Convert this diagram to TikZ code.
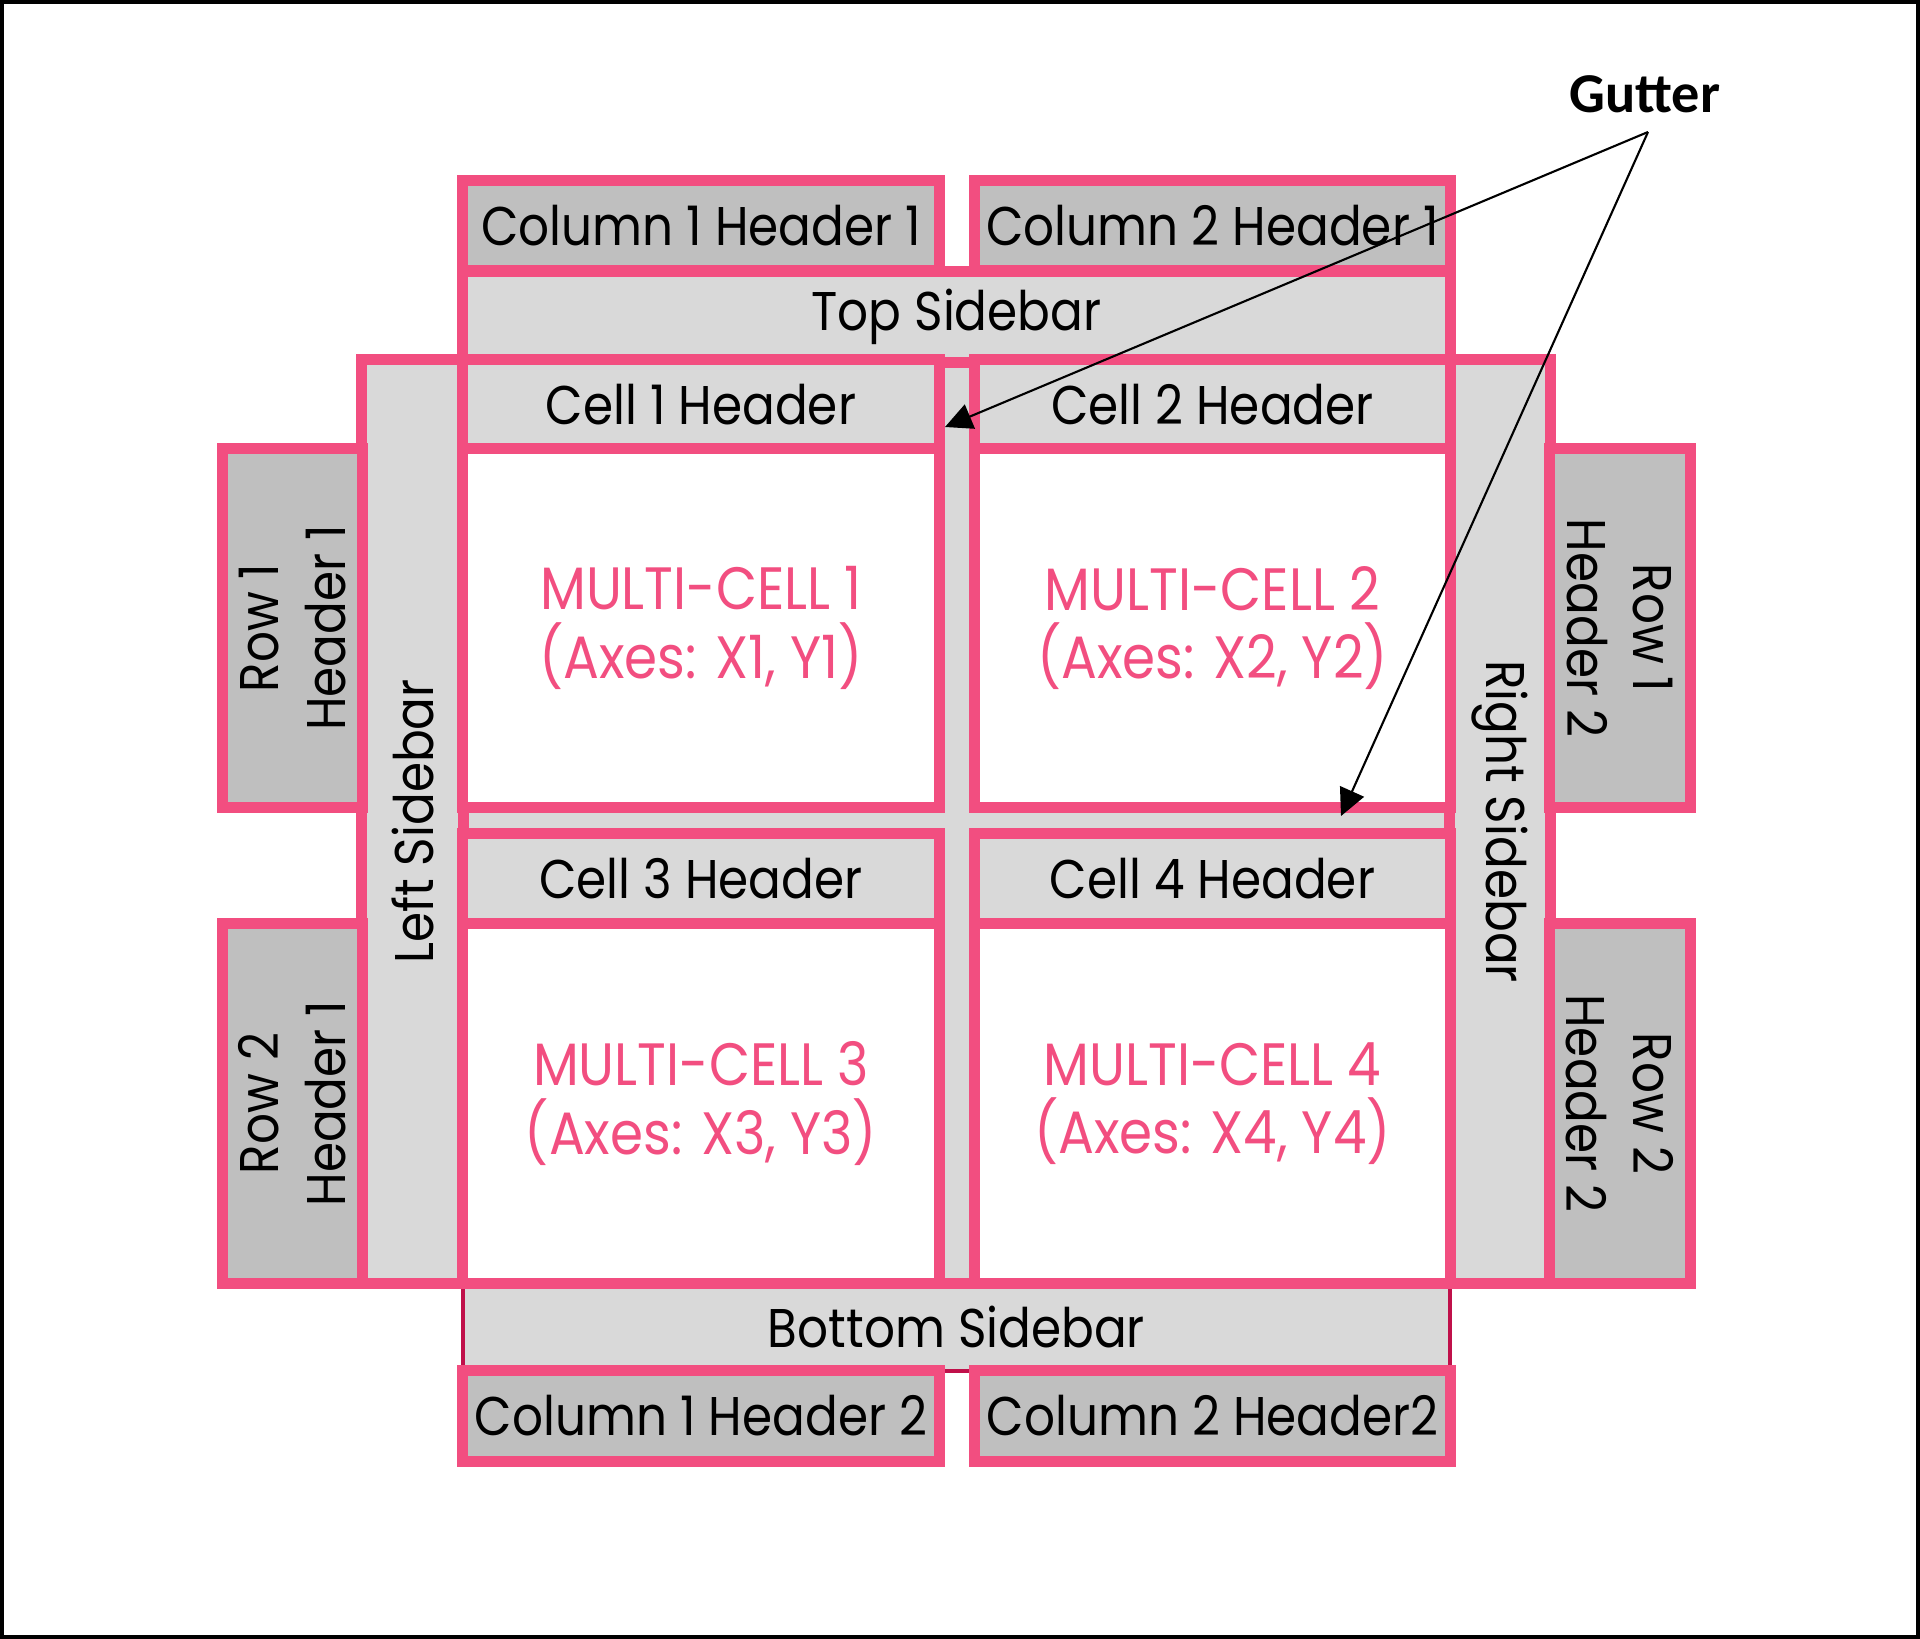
\documentclass[tikz,border=0pt]{standalone}
\usepackage{fontspec}
\setmainfont[FakeStretch=0.89]{Poppins}
\newfontfamily\gutterfont{Carlito}
\usepackage{xcolor}
\usetikzlibrary{arrows.meta}
\definecolor{gridpink}{RGB}{242,78,128}
\definecolor{edgered}{RGB}{192,16,74}
\definecolor{hdrgray}{RGB}{191,191,191}
\definecolor{sbgray}{RGB}{217,217,217}

\begin{document}
\begin{tikzpicture}[
    x=0.01cm, y=-0.01cm,
    font=\fontsize{15.5}{19}\selectfont,
    box/.style={draw=gridpink, line width=0.11cm, inner sep=0pt, align=center},
    hdr/.style={box, fill=hdrgray},
    sb/.style={box, fill=sbgray},
    multi/.style={box, fill=white, text=gridpink, font=\fontsize{17}{19.5}\selectfont},
    arr/.style={-{Triangle[length=0.27cm, width=0.26cm]}, line width=0.6pt, black},
]
\useasboundingbox (0,0) rectangle (1920,1639);
\draw[line width=0.04cm] (2,2) rectangle (1918,1637);

\node[sb, draw=edgered, line width=0.04cm, minimum width=9.87cm, minimum height=0.88cm] (botsb) at (956.5,1327) {Bottom Sidebar};
\node[sb, minimum width=9.87cm, minimum height=9.23cm] (grid) at (956.5,821.5) {};
\node[sb, minimum width=9.87cm, minimum height=0.90cm] (topsb) at (956.5,317) {Top Sidebar};
\node[sb, rotate=90, minimum width=9.23cm, minimum height=1.01cm] (leftsb) at (412.5,821.5) {Left Sidebar};
\node[sb, rotate=-90, minimum width=9.23cm, minimum height=1.00cm] (rightsb) at (1500,821.5) {Right Sidebar};

\node[hdr, minimum width=4.76cm, minimum height=0.89cm] (c1h1) at (701,225.5) {Column 1 Header 1};
\node[hdr, minimum width=4.75cm, minimum height=0.89cm] (c2h1) at (1212.5,225.5) {Column 2 Header 1};

\node[sb, minimum width=4.76cm, minimum height=0.89cm] (cell1h) at (701,404.5) {Cell 1 Header};
\node[sb, minimum width=4.75cm, minimum height=0.89cm] (cell2h) at (1212.5,404.5) {Cell 2 Header};
\node[multi, minimum width=4.76cm, minimum height=3.58cm] (mc1) at (701,628) {MULTI-CELL 1\\(Axes: X1, Y1)};
\node[multi, minimum width=4.75cm, minimum height=3.58cm] (mc2) at (1212.5,628) {MULTI-CELL 2\\(Axes: X2, Y2)};
\node[sb, minimum width=4.76cm, minimum height=0.90cm] (cell3h) at (701,879) {Cell 3 Header};
\node[sb, minimum width=4.75cm, minimum height=0.90cm] (cell4h) at (1212.5,879) {Cell 4 Header};
\node[multi, minimum width=4.76cm, minimum height=3.59cm] (mc3) at (701,1103.5) {MULTI-CELL 3\\(Axes: X3, Y3)};
\node[multi, minimum width=4.75cm, minimum height=3.59cm] (mc4) at (1212.5,1103.5) {MULTI-CELL 4\\(Axes: X4, Y4)};

\node[hdr, rotate=90, minimum width=3.58cm, minimum height=1.39cm] (r1h1) at (292.5,628) {Row 1\\Header 1};
\node[hdr, rotate=90, minimum width=3.59cm, minimum height=1.39cm] (r2h1) at (292.5,1103.5) {Row 2\\Header 1};
\node[hdr, rotate=-90, minimum width=3.58cm, minimum height=1.40cm] (r1h2) at (1620,628) {Row 1\\Header 2};
\node[hdr, rotate=-90, minimum width=3.59cm, minimum height=1.40cm] (r2h2) at (1620,1103.5) {Row 2\\Header 2};

\node[hdr, minimum width=4.76cm, minimum height=0.90cm] (c1h2) at (701,1416) {Column 1 Header 2};
\node[hdr, minimum width=4.75cm, minimum height=0.90cm] (c2h2) at (1212.5,1416) {Column 2 Header2};

\node[font=\gutterfont\bfseries\fontsize{16}{19}\selectfont] (gutter) at (1645,94) {Gutter};
\coordinate (gsplit) at (1648,132);
\coordinate (gutv) at (945,427);
\coordinate (guth) at (1341,816);
\draw[arr] (gsplit) -- (gutv);
\draw[arr] (gsplit) -- (guth);
\end{tikzpicture}
\end{document}
